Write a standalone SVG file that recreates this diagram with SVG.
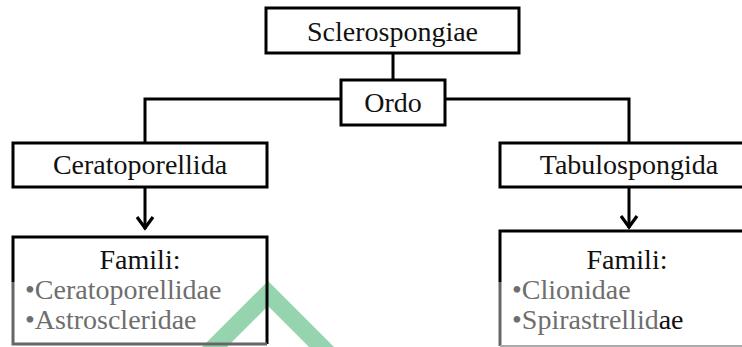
<svg xmlns="http://www.w3.org/2000/svg" width="742" height="347" viewBox="0 0 742 347">
  <style>
    .box { fill: none; stroke: #000; stroke-width: 3; }
    .line { fill: none; stroke: #000; stroke-width: 3; }
    .t { font-family: "Liberation Serif", "Times New Roman", serif; font-size: 28px; fill: #111; }
    .c { text-anchor: middle; }
    .g { fill: #6e6e6e; }
    .gb { fill: none; stroke: #666; stroke-width: 3; }
  </style>
  <defs>
    <marker id="arr" markerWidth="20" markerHeight="20" refX="15" refY="10" orient="auto" markerUnits="userSpaceOnUse" viewBox="0 0 20 20">
      <path d="M3,2 L14,10 L3,18" fill="none" stroke="#000" stroke-width="3.2"/>
    </marker>
  </defs>
  <rect width="742" height="347" fill="#fff"/>

  <g id="watermark">
    <polygon points="268,281 334,347 309,347 268,306 227,347 202,347" fill="#96d4af"/>
  </g>

  <g id="connectors">
    <line class="line" x1="393" y1="53" x2="393" y2="80"/>
    <polyline class="line" points="341,99 145,99 145,143"/>
    <polyline class="line" points="445,99 629,99 629,143"/>
    <line class="line" x1="145" y1="187" x2="145" y2="229" marker-end="url(#arr)"/>
    <line class="line" x1="629" y1="187" x2="629" y2="228" marker-end="url(#arr)"/>
  </g>

  <g id="sclerospongiae">
    <rect class="box" x="266" y="8" width="253" height="45"/>
    <text class="t c" x="392.5" y="41">Sclerospongiae</text>
  </g>

  <g id="ordo">
    <rect class="box" x="341" y="80" width="104" height="45"/>
    <text class="t c" x="393" y="112">Ordo</text>
  </g>

  <g id="ceratoporellida">
    <rect class="box" x="13" y="143" width="254" height="44"/>
    <text class="t c" x="140" y="174">Ceratoporellida</text>
  </g>

  <g id="tabulospongida">
    <rect class="box" x="500" y="143" width="260" height="44"/>
    <text class="t c" x="629" y="174">Tabulospongida</text>
  </g>

  <g id="famili-left">
    <path class="line" d="M13,282 V237 H267 V344"/>
    <path class="gb" d="M13,282 V344 H267"/>
    <text class="t c" x="140" y="269">Famili:</text>
    <text class="t g" x="25" y="299">•Ceratoporellidae</text>
    <text class="t g" x="25" y="329">•Astroscleridae</text>
  </g>

  <g id="famili-right">
    <path class="line" d="M500,282 V231 H742"/>
    <path class="gb" d="M500,282 V346" />
    <path d="M500,346 H742" fill="none" stroke="#aaa" stroke-width="2"/>
    <text class="t c" x="627" y="269">Famili:</text>
    <text class="t g" x="512" y="299">•Clionidae</text>
    <text class="t g" x="512" y="329">•Spirastrellid<tspan fill="#111">ae</tspan></text>
  </g>
</svg>
